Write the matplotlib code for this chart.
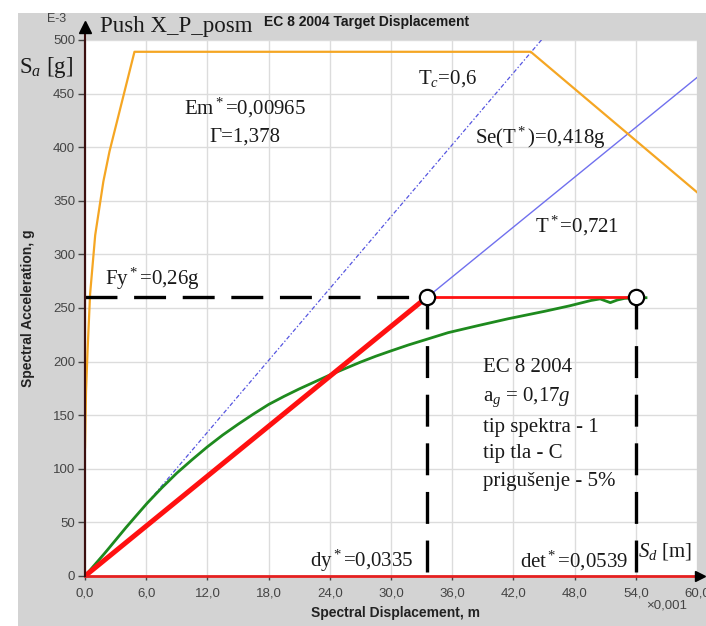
import matplotlib
matplotlib.use('Agg')
import matplotlib.pyplot as plt
from matplotlib.patches import Rectangle

plt.rcParams['font.family'] = ['Liberation Sans', 'DejaVu Sans']
plt.rcParams['mathtext.fontset'] = 'custom'
plt.rcParams['mathtext.rm'] = 'Liberation Serif'
plt.rcParams['mathtext.it'] = 'Liberation Serif:italic'
plt.rcParams['lines.scale_dashes'] = False

# Sd in mm (x0,001 m), Sa in E-3 g
spec_sd = [0.0, 0.1, 0.25, 0.5, 1.0, 1.8, 2.4, 4.85, 43.7, 60.0]
spec_sa = [120, 172, 210, 263, 318, 368, 396, 489, 489, 358]

cap_sd = [0.0, 1.0, 2.0, 3.0, 4.0, 5.0, 6.1, 7.5, 9.0, 10.5, 12.0, 13.5, 15.0, 16.5, 18.0,
          19.5, 21.0, 22.5, 24.0, 25.5, 27.0, 28.5, 30.0, 31.7, 33.4, 35.6, 38.5, 41.5,
          45.1, 47.5, 49.6, 50.5, 51.5, 52.2, 52.9, 54.0, 55.0]
cap_sa = [0, 11, 22, 33.5, 45, 56, 68, 82, 96, 108.5, 120.5, 131.5, 141.5, 151, 160,
          167.5, 174.5, 181, 187.5, 193.5, 199.5, 205, 210, 215.5, 220.5, 227, 233.5, 240,
          247, 252, 257, 258.5, 255, 257.5, 259, 259.5, 259.6]

dy = 33.5
det = 54.0
fy = 260

tstar_sd = [0, 60]
tstar_sa = [0, 465]
tc_sd = [0, 46]
tc_sa = [0, 514]

xticks = [0, 6, 12, 18, 24, 30, 36, 42, 48, 54, 60]
xlabels = ['0,0', '6,0', '12,0', '18,0', '24,0', '30,0', '36,0', '42,0', '48,0', '54,0', '60,0']
yticks = [0, 50, 100, 150, 200, 250, 300, 350, 400, 450, 500]

W, H = 706, 626
fig = plt.figure(figsize=(W / 100, H / 100), dpi=100)
fig.patch.set_facecolor('white')
fig.add_artist(Rectangle((18 / W, 0), 1, 1 - 13 / H, transform=fig.transFigure,
                         facecolor='#d3d3d3', edgecolor='none', zorder=-1))

ax = fig.add_axes([85 / W, 1 - 576 / H, (697 - 85) / W, (576 - 40) / H])
ax.set_facecolor('white')
ax.set_xlim(0, 60)
ax.set_ylim(0, 500)
ax.set_xticks(xticks)
ax.set_xticklabels(xlabels)
ax.set_yticks(yticks)
ax.grid(color='#dcdcdc', lw=1)
ax.set_axisbelow(True)
for s in ['top', 'right']:
    ax.spines[s].set_visible(False)
ax.spines['left'].set_color('#3b1010')
ax.spines['left'].set_linewidth(1.5)
ax.spines['bottom'].set_color('#e52020')
ax.spines['bottom'].set_linewidth(2)
ax.tick_params(axis='y', length=5, width=1, color='#444444', pad=2, labelsize=9.5, labelcolor='#444444')
ax.tick_params(axis='x', length=3, width=1, color='#444444', pad=5, labelsize=9.5, labelcolor='#444444')

serif = dict(fontfamily='Liberation Serif', fontsize=15, color='#1a1a1a')

# period lines
ax.plot(tstar_sd, tstar_sa, color='#7070ee', lw=1, zorder=2)
ax.plot(tc_sd, tc_sa, color='#5555e0', lw=0.9, dashes=(3, 1.5, 1, 1.5), zorder=2)

# elastic spectrum
ax.plot(spec_sd, spec_sa, color='#f5a623', lw=1.6, zorder=3)

# capacity curve
ax.plot(cap_sd, cap_sa, color='#1e8a1e', lw=2, zorder=4)

# bilinear idealisation
ax.plot([0, dy], [0, fy], color='#ff1010', lw=3.6, zorder=5, solid_capstyle='butt')
ax.plot([dy, det], [fy, fy], color='#ff1010', lw=2, zorder=5)

# dashed guides
ax.plot([0, dy], [fy, fy], color='black', lw=2.4, dashes=(23, 12), zorder=6)
ax.plot([dy, dy], [fy, 0], color='black', lw=2.4, dashes=(23, 12), zorder=6)
ax.plot([det, det], [fy, 0], color='black', lw=2.4, dashes=(23, 12), zorder=6)
ax.plot([dy, det], [fy, fy], 'o', ms=11, mfc='white', mec='black', mew=1.6, zorder=7)

# axis arrows
ax.plot([0, 0], [0, 512], color='#3b1010', lw=1.5, clip_on=False, zorder=8)
ax.plot(0, 512, marker='^', ms=9, color='black', clip_on=False, zorder=9)
ax.plot(60.3, 0, marker='>', ms=7, color='black', clip_on=False, zorder=9)

# annotations
ax.text(15.7, 436.5, 'Em$^*$=0,00965', ha='center', va='center', **serif)
ax.text(15.7, 409.5, '\u0393=1,378', ha='center', va='center', **serif)
ax.text(32.6, 464.5, 'T$_c$=0,6', ha='left', va='center', **serif)
ax.text(38.2, 408.6, 'Se(T$^*$)=0,418g', ha='left', va='center', **serif)
ax.text(44.1, 326.5, 'T$^*$=0,721', ha='left', va='center', **serif)
ax.text(1.96, 277, 'Fy$^*$=0,26g', ha='left', va='center', **serif)
block = ['EC 8 2004', 'a$_g$ = 0,17$g$', 'tip spektra - 1', 'tip tla - C', 'prigu\u0161enje - 5%']
block_y = [194.8, 166.8, 138.8, 114.6, 87.7]
for t, yy in zip(block, block_y):
    ax.text(39.0, yy, t, ha='left', va='center', **serif)
ax.text(22.06, 14, 'dy$^*$=0,0335', ha='left', va='center', **serif)
ax.text(42.6, 14, 'det$^*$=0,0539', ha='left', va='center', **serif)
ax.text(54.2, 23, '$S_d$ [m]', ha='left', va='center', clip_on=False, **serif)

fig.text(100 / W, 1 - 32 / H, 'Push X_P_posm', ha='left', va='baseline',
         fontfamily='Liberation Serif', fontsize=16.5, color='#1a1a1a')
fig.text(264 / W, 1 - 26 / H, 'EC 8 2004 Target Displacement', ha='left', va='baseline',
         fontweight='bold', fontsize=10, color='#1a1a1a')
fig.text(57 / W, 1 - 19 / H, 'E-3', ha='center', va='center', fontsize=9, color='#444444')
fig.text(18 / W + 0.001, 1 - 67 / H, 'S$_a$ [g]', ha='left', va='center',
         fontfamily='Liberation Serif', fontsize=16.5, color='#1a1a1a')
fig.text(28 / W, 1 - 308 / H, 'Spectral Acceleration, g', rotation=90, ha='center', va='center',
         fontweight='bold', fontsize=10, color='#222222')
fig.text(395 / W, 1 - 613 / H, 'Spectral Displacement, m', ha='center', va='center',
         fontweight='bold', fontsize=10, color='#222222')
fig.text(667 / W, 1 - 606 / H, '\u00d70,001', ha='center', va='center', fontsize=9.5, color='#444444')

fig.savefig('out.png', dpi=100)
